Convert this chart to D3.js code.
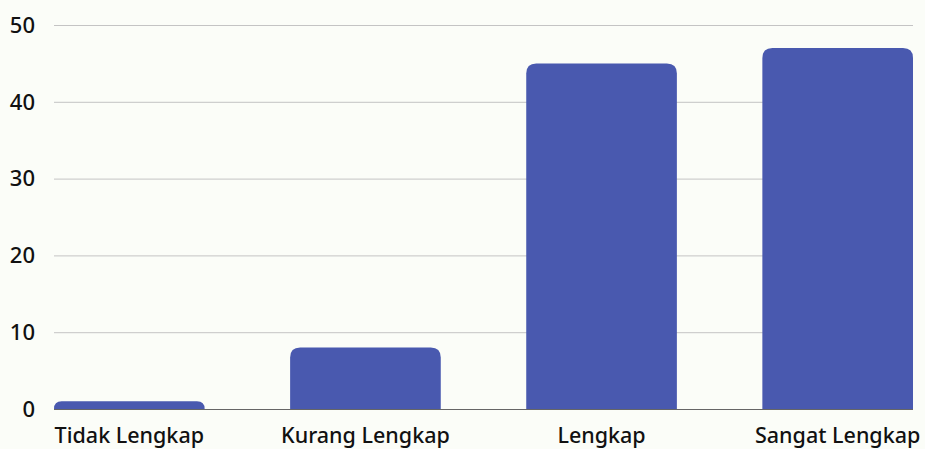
<!DOCTYPE html>
<html>
<head>
<meta charset="utf-8">
<script src="https://cdn.jsdelivr.net/npm/d3@7"></script>
<style>
  html, body { margin: 0; padding: 0; background: #fbfdf8; }
  svg { display: block; }
  text { font-family: "Noto Sans", "Lato", sans-serif; fill: #111; font-weight: 500; }
</style>
</head>
<body>
<svg id="chart" width="925" height="449"></svg>
<script>
const categories = ["Tidak Lengkap", "Kurang Lengkap", "Lengkap", "Sangat Lengkap"];
const values = [1, 8, 45, 47];
const yTicks = [0, 10, 20, 30, 40, 50];

const W = 925, H = 449;
const margin = { left: 54, right: 12, top: 25, bottom: 40 };
const svg = d3.select("#chart");

const x = d3.scaleBand()
  .domain(categories)
  .range([margin.left, W - margin.right])
  .paddingInner(0.362)
  .paddingOuter(0);

const y = d3.scaleLinear()
  .domain([0, 50])
  .range([H - margin.bottom, margin.top]);

// gridlines
svg.append("g")
  .selectAll("line")
  .data(yTicks.filter(d => d > 0))
  .join("line")
  .attr("x1", margin.left)
  .attr("x2", W - margin.right)
  .attr("y1", d => y(d) + 0.5)
  .attr("y2", d => y(d) + 0.5)
  .attr("stroke", "#c4c4c4")
  .attr("stroke-width", 1);

// y labels
svg.append("g")
  .selectAll("text")
  .data(yTicks)
  .join("text")
  .attr("x", 35)
  .attr("y", d => y(d))
  .attr("dy", "0.35em")
  .attr("text-anchor", "end")
  .attr("font-size", 22)
  .text(d => d);

// bars with rounded top corners
const r = 10;
function barPath(d, i) {
  const x0 = x(categories[i]);
  const w = x.bandwidth();
  const y0 = y(0);
  const y1 = y(d);
  const rr = Math.min(r, (y0 - y1), w / 2);
  return `M${x0},${y0}V${y1 + rr}Q${x0},${y1} ${x0 + rr},${y1}H${x0 + w - rr}Q${x0 + w},${y1} ${x0 + w},${y1 + rr}V${y0}Z`;
}
svg.append("g")
  .selectAll("path")
  .data(values)
  .join("path")
  .attr("d", (d, i) => barPath(d, i))
  .attr("fill", "#4959af");

// baseline
svg.append("line")
  .attr("x1", margin.left)
  .attr("x2", W - margin.right)
  .attr("y1", y(0) + 0.5)
  .attr("y2", y(0) + 0.5)
  .attr("stroke", "#666")
  .attr("stroke-width", 1);

// x labels
svg.append("g")
  .selectAll("text")
  .data(categories)
  .join("text")
  .attr("x", d => x(d) + x.bandwidth() / 2)
  .attr("y", 443)
  .attr("text-anchor", "middle")
  .attr("font-size", 21.5)
  .text(d => d);
</script>
</body>
</html>
